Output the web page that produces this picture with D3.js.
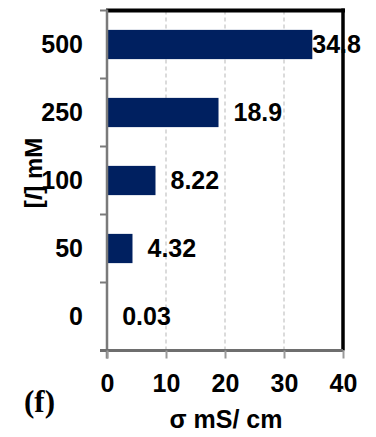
<!DOCTYPE html>
<html>
<head>
<meta charset="utf-8">
<script src="https://cdn.jsdelivr.net/npm/d3@7"></script>
<style>
  html, body { margin: 0; padding: 0; background: #fff; }
  svg { display: block; }
  text { font-family: "Liberation Sans", Arial, sans-serif; font-weight: bold; fill: #000; }
</style>
</head>
<body>
<svg id="chart" width="376" height="437"></svg>
<script>
// Concentration categories (mM), top to bottom
const concentrations = ["500", "250", "100", "50", "0"];
// Ionic conductivity values (mS/cm)
const conductivity = [34.8, 18.9, 8.22, 4.32, 0.03];
// Value labels printed next to each bar
const valueLabels = ["34.8", "18.9", "8.22", "4.32", "0.03"];
// Conductivity axis ticks
const xTicks = [0, 10, 20, 30, 40];

const svg = d3.select("#chart");
const plotLeft = 107, plotRight = 343, plotTop = 10.5, plotBottom = 350.5;
const fs = 25;

const x = d3.scaleLinear().domain([0, 40]).range([plotLeft, plotRight]);
const y = d3.scaleBand().domain(concentrations).range([plotTop, plotBottom])
  .paddingInner(0.57).paddingOuter(0.285);

// dashed vertical gridlines
svg.append("g").selectAll("line")
  .data(xTicks.slice(1, -1))
  .join("line")
  .attr("x1", d => x(d)).attr("x2", d => x(d))
  .attr("y1", plotTop).attr("y2", plotBottom)
  .attr("stroke", "#c4c4c4").attr("stroke-width", 1.2)
  .attr("stroke-dasharray", "4,3");

// bars
const data = concentrations.map((c, i) => ({ c, v: conductivity[i], label: valueLabels[i] }));
svg.append("g").selectAll("rect")
  .data(data)
  .join("rect")
  .attr("x", x(0))
  .attr("y", d => y(d.c))
  .attr("width", d => Math.max(x(d.v) - x(0), 0.8))
  .attr("height", y.bandwidth())
  .attr("fill", "#002060");

// frame: thick black top and right edges
svg.append("line").attr("x1", plotLeft - 1).attr("x2", plotRight + 2)
  .attr("y1", plotTop).attr("y2", plotTop)
  .attr("stroke", "#000").attr("stroke-width", 4);
svg.append("line").attr("x1", plotRight).attr("x2", plotRight)
  .attr("y1", plotTop - 2).attr("y2", plotBottom)
  .attr("stroke", "#000").attr("stroke-width", 3.5);

// category axis (left)
const yBoundaries = concentrations.map(c => y(c) - y.step() * 0.285).concat([plotBottom]);
const gy = svg.append("g");
gy.append("line").attr("x1", plotLeft).attr("x2", plotLeft)
  .attr("y1", plotTop - 1).attr("y2", plotBottom + 8)
  .attr("stroke", "#7a7a7a").attr("stroke-width", 2.5);
gy.selectAll("line.tick").data(yBoundaries).join("line").attr("class", "tick")
  .attr("x1", plotLeft - 7).attr("x2", plotLeft)
  .attr("y1", d => d).attr("y2", d => d)
  .attr("stroke", "#7a7a7a").attr("stroke-width", 2);
gy.selectAll("text").data(concentrations).join("text")
  .attr("x", 83)
  .attr("y", d => y(d) + y.bandwidth() / 2)
  .attr("dy", "0.33em")
  .attr("text-anchor", "end")
  .attr("font-size", fs)
  .text(d => d);

// value axis (bottom)
const xAxis = d3.axisBottom(x).tickValues(xTicks).tickSize(8).tickPadding(16);
const gx = svg.append("g").attr("transform", `translate(0,${plotBottom})`).call(xAxis);
gx.select(".domain").attr("stroke", "#6e6e6e").attr("stroke-width", 3)
  .attr("d", `M${plotLeft - 7},0H${plotRight}`);
gx.selectAll(".tick line").attr("stroke", "#9a9a9a").attr("stroke-width", 2);
gx.selectAll(".tick text")
  .attr("font-size", fs)
  .attr("fill", "#000");

// value labels
const labels = svg.append("g").selectAll("text")
  .data(data)
  .join("text")
  .attr("y", d => y(d.c) + y.bandwidth() / 2)
  .attr("dy", "0.33em")
  .attr("font-size", fs)
  .text(d => d.label);
labels.each(function (d) {
  const w = this.getComputedTextLength();
  let lx = x(d.v) + 15;
  if (lx + w > 366) lx = x(d.v);
  d3.select(this).attr("x", lx);
});

// axis titles
const yTitle = svg.append("text")
  .attr("transform", `translate(42,173) rotate(-90)`)
  .attr("text-anchor", "middle")
  .attr("font-size", 24);
yTitle.append("tspan").text("[");
yTitle.append("tspan").attr("font-style", "italic").text("I");
yTitle.append("tspan").text("] mM");

svg.append("text")
  .attr("x", 226).attr("y", 428)
  .attr("text-anchor", "middle")
  .attr("font-size", fs)
  .text("σ mS/ cm");

svg.append("text")
  .attr("x", 24).attr("y", 412)
  .style("font-family", "'Liberation Serif', 'Times New Roman', serif")
  .attr("font-size", 31)
  .text("(f)");
</script>
</body>
</html>
